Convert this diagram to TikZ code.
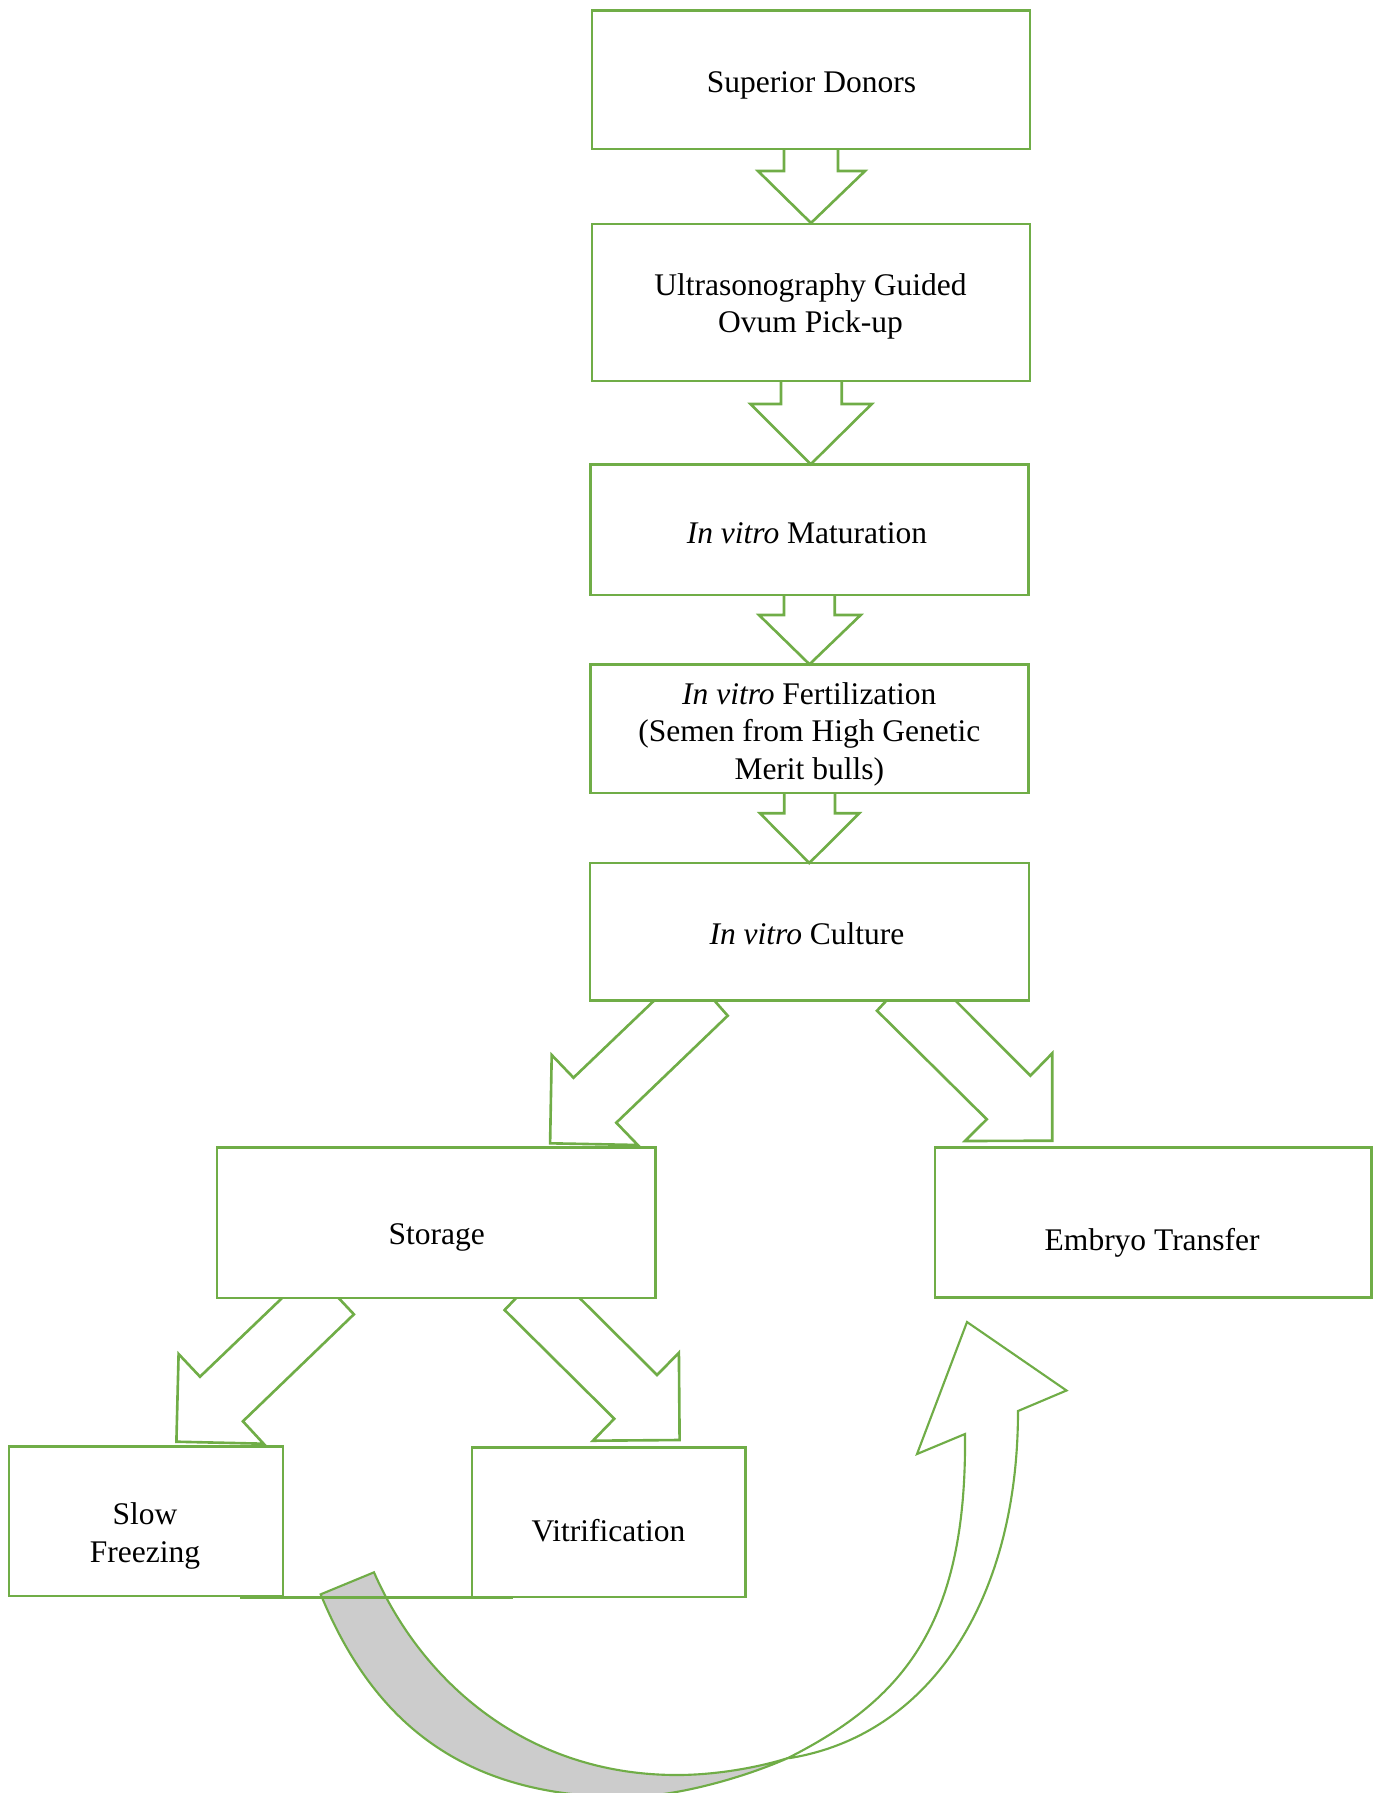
\documentclass[tikz,border=0pt]{standalone}
\usepackage{fontspec}
\setmainfont{Liberation Serif}
\usetikzlibrary{fit}
\definecolor{grn}{HTML}{70AD47}
\definecolor{shadegray}{HTML}{CCCCCC}
\begin{document}
\begin{tikzpicture}[x=0.4pt,y=-0.4pt,
  box/.style={draw=grn, line width=1.05pt, rectangle, inner sep=0pt},
  lbl/.style={font=\fontsize{12.6}{15}\selectfont, align=center, inner sep=0pt},
  blk/.style={draw=grn, line width=1.05pt, line join=miter},
  crv/.style={draw=grn, line width=0.85pt, line join=miter}]
\useasboundingbox (0,0) rectangle (1374,1793);

% ---------- block arrows (vertical) ----------
\draw[blk] (784,149) -- (784,171) -- (758,171) -- (811,223) -- (865,171) -- (838,171) -- (838,149);
\draw[blk] (781,381) -- (781,404) -- (750.5,404) -- (810.7,464.3) -- (871.7,404) -- (841.7,404) -- (841.7,381);
\draw[blk] (784,595) -- (784,615) -- (759,615) -- (809.5,664.3) -- (860.7,615) -- (834.7,615) -- (834.7,595);
\draw[blk] (784.3,793) -- (784.3,813.3) -- (760,813.3) -- (809.3,863) -- (859.3,813.3) -- (835,813.3) -- (835,793);

% ---------- block arrows (diagonal) ----------
\draw[blk] (654.2,1000.5) -- (573.5,1077.7) -- (551.7,1055) -- (550.1,1143.3) -- (637.8,1145) -- (616.3,1122.7) -- (727.7,1015.7) -- (714.3,1000.5);
\draw[blk] (886.5,1000.5) -- (877,1010.7) -- (986.8,1119.3) -- (965,1141) -- (1052.2,1140.7) -- (1052.2,1053.3) -- (1030.4,1075.7) -- (955.4,1000.5);
\draw[blk] (282.1,1298) -- (200,1376.7) -- (178.6,1354) -- (176.4,1441.7) -- (263.6,1443.7) -- (242.9,1421.3) -- (353.9,1314.3) -- (338.6,1298);
\draw[blk] (516.1,1298) -- (504.6,1310) -- (614.3,1418.7) -- (592.9,1440.7) -- (679.6,1440) -- (678.9,1352.7) -- (657.1,1375) -- (579.6,1298);

% ---------- boxes ----------
\node[box, fit={(592,10.5) (1030,149)}] (donors) {};
\node[box, fit={(592,224) (1030,381)}] (opu) {};
\node[box, fit={(590.5,464.5) (1028.5,595)}] (ivm) {};
\node[box, fit={(590.5,664.3) (1028.5,793)}] (ivf) {};
\node[box, fit={(590,863) (1028.8,1000.5)}] (ivc) {};
\node[box, fit={(217,1147.7) (655.5,1298)}] (storage) {};
\node[box, fit={(935,1147.7) (1371.5,1297.5)}] (et) {};
\node[box, fit={(9,1446.5) (283,1596)}] (slow) {};
\node[box, fit={(472,1447.5) (745.5,1597)}] (vitri) {};

% ---------- texts ----------
\node[lbl] (tdonors) at (811.5,85.5) {Superior Donors};
\node[lbl] (topu) at (810.5,306.5) {Ultrasonography Guided\\Ovum Pick-up};
\node[lbl] (tivm) at (807,533) {\textit{In vitro} Maturation};
\node[lbl] (tivf) at (809.3,734) {\textit{In vitro} Fertilization\\(Semen from High Genetic\\Merit bulls)};
\node[lbl] (tivc) at (807,934) {\textit{In vitro} Culture};
\node[lbl] (tstorage) at (436.7,1237.5) {Storage};
\node[lbl] (tet) at (1152.2,1243) {Embryo Transfer};
\node[lbl] (tslow) at (145,1536) {Slow\\Freezing};
\node[lbl] (tvitri) at (608.4,1531) {Vitrification};

% ---------- curved up arrow: shaded back part ----------
\filldraw[crv, fill=shadegray] (374,1572.3)
  .. controls (422,1682) and (527,1775) .. (677,1775)
  .. controls (717,1775) and (760,1767) .. (788,1758)
  .. controls (750,1775) and (680,1797) .. (625,1797)
  .. controls (455,1797) and (370,1714) .. (320.7,1594.3)
  -- cycle;

% line under the lower boxes
\draw[blk] (240,1597.5) -- (513,1597.5);

% ---------- curved up arrow: front part with head ----------
\filldraw[crv, fill=white] (788,1758)
  .. controls (903.7,1699.5) and (967,1624) .. (965,1434)
  -- (917,1454) -- (967,1322) -- (1066.5,1390.5) -- (1018,1411)
  .. controls (1018,1600) and (930,1735) .. (790,1758)
  -- cycle;
\end{tikzpicture}
\end{document}
